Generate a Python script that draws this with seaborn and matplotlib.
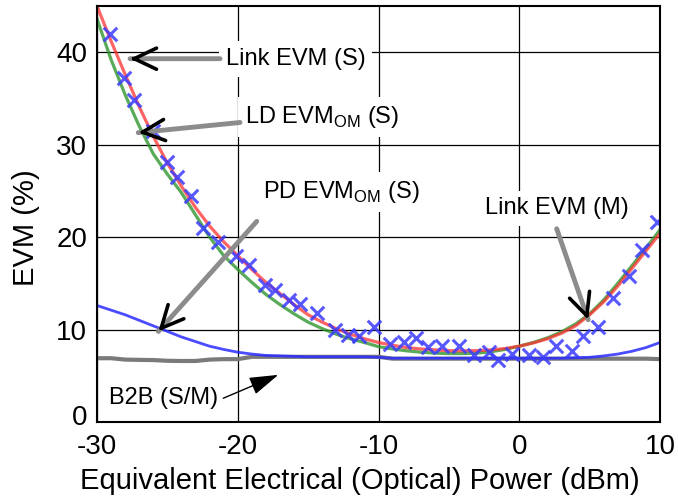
import numpy as np
import pandas as pd
import matplotlib
matplotlib.use("Agg")
import matplotlib.pyplot as plt
import matplotlib.transforms as mtransforms
import seaborn as sns

# power axis (dBm) for the fitted curves
power = list(range(-30, 11))

link_s = [45.0, 41.2, 37.6, 34.1, 30.9, 28.0, 25.5, 23.2, 21.2, 19.5,
          18.0, 16.5, 15.1, 13.9, 12.7, 11.6, 10.8, 10.1, 9.5, 9.0,
          8.6, 8.3, 8.05, 7.9, 7.8, 7.72, 7.7, 7.72, 7.8, 7.95,
          8.2, 8.55, 9.0, 9.6, 10.4, 11.6, 13.0, 14.7, 16.6, 18.5, 20.4]
ld_om = [43.6, 39.2, 35.4, 32.0, 29.0, 26.8, 24.8, 22.4, 20.0, 18.0,
         16.5, 15.1, 13.8, 12.7, 11.7, 10.8, 10.1, 9.5, 9.0, 8.6,
         8.15, 7.9, 7.7, 7.55, 7.45, 7.4, 7.4, 7.45, 7.6, 7.85,
         8.2, 8.6, 9.1, 9.75, 10.6, 11.7, 13.2, 15.0, 16.9, 18.8, 20.8]
pd_om = [12.6, 12.1, 11.6, 11.0, 10.4, 9.8, 9.2, 8.7, 8.2, 7.85,
         7.55, 7.35, 7.2, 7.15, 7.1, 7.05, 7.05, 7.05, 7.05, 7.05,
         7.0, 6.9, 6.9, 6.9, 6.9, 6.9, 6.9, 6.9, 6.9, 6.9,
         6.9, 6.9, 6.9, 6.9, 6.95, 7.0, 7.15, 7.35, 7.65, 8.05, 8.6]
b2b = [6.9, 6.9, 6.75, 6.72, 6.7, 6.62, 6.6, 6.6, 6.75, 6.8,
       6.8, 7.05, 7.05, 7.05, 7.05, 7.05, 7.05, 7.05, 7.05, 7.05,
       7.05, 6.85, 6.85, 6.85, 6.85, 6.85, 6.85, 6.85, 6.85, 6.85,
       6.85, 6.85, 6.85, 6.85, 6.85, 6.85, 6.85, 6.85, 6.85, 6.85, 6.8]

# measured Link EVM points
meas_x = [-29.1, -28.1, -27.35, -26.0, -25.05, -24.35, -23.35, -22.45, -21.4, -20.15,
          -19.2, -18.06, -17.35, -16.36, -15.6, -14.4, -13.1, -12.15, -11.4, -10.3,
          -9.2, -8.2, -7.35, -6.5, -5.5, -4.3, -3.2, -2.15, -1.49, -0.5,
          0.7, 1.71, 2.63, 3.72, 4.55, 5.62, 6.69, 7.82, 8.7, 9.76]
meas_y = [42.0, 37.2, 34.8, 31.5, 28.1, 26.5, 24.5, 21.0, 19.5, 18.0,
          17.0, 14.85, 14.3, 13.15, 12.8, 11.8, 10.0, 9.4, 9.25, 10.3,
          8.45, 8.6, 9.05, 8.1, 8.24, 8.17, 7.3, 7.6, 6.72, 7.4,
          7.26, 7.08, 8.17, 7.73, 9.32, 10.3, 13.4, 15.8, 18.6, 21.6]

sns.set_style("white")
plt.rcParams['font.family'] = ['Liberation Sans', 'DejaVu Sans']
plt.rcParams['mathtext.fontset'] = 'custom'
plt.rcParams['mathtext.rm'] = 'Liberation Sans'
plt.rcParams['axes.unicode_minus'] = False
plt.rcParams['text.color'] = 'black'
plt.rcParams['axes.labelcolor'] = 'black'

fig = plt.figure(figsize=(6.78, 4.96), dpi=100)
ax = fig.add_axes([97/678, 1-422/496, (660-97)/678, (422-6)/496])

df = pd.DataFrame({"power": power, "link": link_s, "ld": ld_om, "pd": pd_om, "b2b": b2b})

sns.lineplot(data=df, x="power", y="b2b", ax=ax, color="#7a7a7a", lw=3.0, zorder=2)
sns.lineplot(data=df, x="power", y="pd", ax=ax, color="#2b2bff", lw=2.0, alpha=0.85, zorder=2.1)
sns.lineplot(data=df, x="power", y="ld", ax=ax, color="#2f962f", lw=2.3, alpha=0.8, zorder=2.2)
sns.lineplot(data=df, x="power", y="link", ax=ax, color="#ff3030", lw=2.3, alpha=0.75, zorder=2.3)
sns.scatterplot(x=meas_x, y=meas_y, ax=ax, marker="x", s=95, color="#3b3bff",
                linewidth=2.2, alpha=0.85, zorder=2.4)

ax.set_xlim(-30, 10)
ax.set_ylim(0, 45)
ax.set_xticks([-30, -20, -10, 0, 10])
ax.set_yticks([0, 10, 20, 30, 40])
ax.grid(True, color="black", lw=0.9)
ax.set_axisbelow(True)
for s in ax.spines.values():
    s.set_color("black")
    s.set_linewidth(1.5)
ax.tick_params(direction="in", length=5, width=1, labelsize=20, colors="black")
ax.tick_params(axis="x", pad=9)
ax.tick_params(axis="y", pad=7)
ax.set_xlabel("Equivalent Electrical (Optical) Power (dBm)", fontsize=21, labelpad=5)
ax.set_ylabel("EVM (%)", fontsize=21, labelpad=12)
ax.xaxis.label.set_x((360 - 97) / 563)
ax.yaxis.label.set_y(1 - (228 - 6) / 416)

# MATLAB lifts the bottom y label off the x labels
fig.canvas.draw()
ylab0 = ax.get_yticklabels()[0]
ylab0.set_transform(ylab0.get_transform() + mtransforms.ScaledTranslation(0, 7/100, fig.dpi_scale_trans))

box = dict(facecolor="white", edgecolor="none", pad=5)
ax.text(-15.9, 39.3, "Link EVM (S)", fontsize=17, ha="center", va="center", bbox=box, zorder=3)
ax.text(-19.5, 33.0, r"LD EVM$_\mathregular{OM}$ (S)", fontsize=17, ha="left", va="center", bbox=box, zorder=3)
ax.text(-18.2, 24.9, r"PD EVM$_\mathregular{OM}$ (S)", fontsize=17, ha="left", va="center", bbox=box, zorder=3)
ax.text(2.66, 23.1, "Link EVM (M)", fontsize=17, ha="center", va="center", bbox=box, zorder=3)
ax.text(-25.3, 2.6, "B2B (S/M)", fontsize=17, ha="center", va="center", bbox=box, zorder=3)


def pointer(start, tip):
    ax.annotate("", xy=tip, xytext=start,
                arrowprops=dict(arrowstyle="-", color="#8c8c8c", lw=3.5, shrinkA=0, shrinkB=0),
                zorder=4)
    p0 = ax.transData.transform(start)
    p1 = ax.transData.transform(tip)
    d = (p0 - p1) / np.hypot(*(p0 - p1))
    off = d * 6 * 72 / 100
    ax.annotate("", xy=tip, xytext=(off[0], off[1]), textcoords="offset points",
                arrowprops=dict(arrowstyle="->,head_length=0.8,head_width=0.38", color="black",
                                lw=2.6, shrinkA=0, shrinkB=0, mutation_scale=20),
                zorder=5)


pointer((-21.26, 39.3), (-27.65, 39.3))
pointer((-19.84, 32.4), (-27.07, 31.3))
pointer((-18.65, 21.7), (-25.64, 9.8))
pointer((2.66, 20.9), (4.9, 11.06))
ax.annotate("", xy=(-17.12, 5.1), xytext=(-21.03, 2.57),
            arrowprops=dict(arrowstyle="-|>,head_length=0.9,head_width=0.28", color="black",
                            lw=1.0, shrinkA=0, shrinkB=0, mutation_scale=20), zorder=5)

fig.savefig("out.png", dpi=100)
